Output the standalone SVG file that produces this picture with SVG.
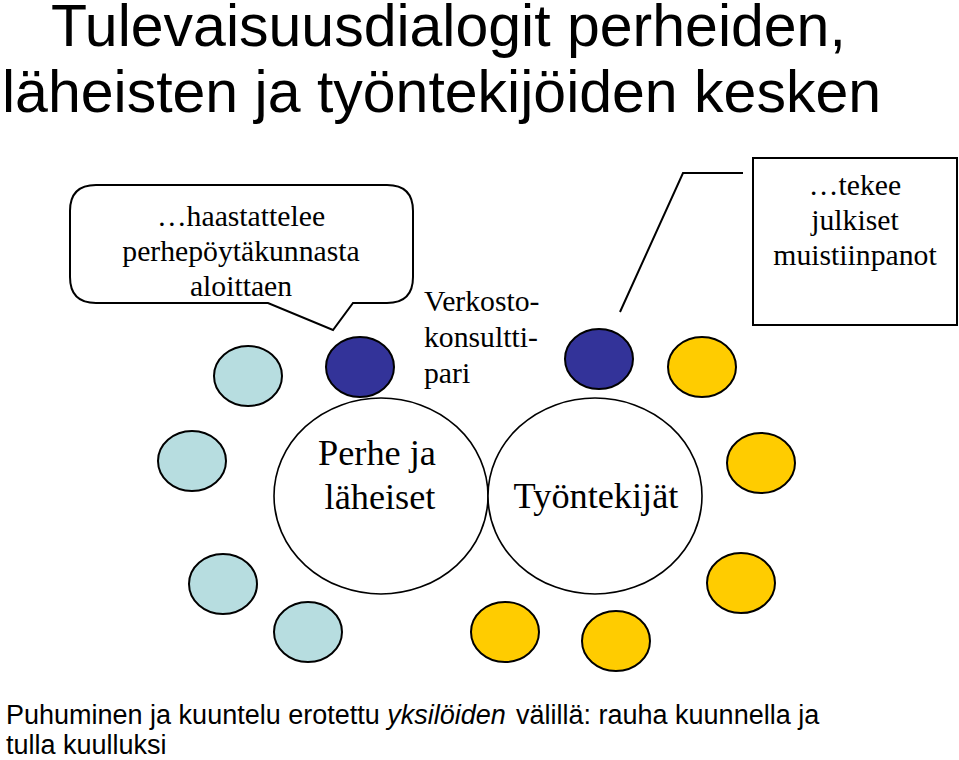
<svg xmlns="http://www.w3.org/2000/svg" width="959" height="760" viewBox="0 0 959 760">
<style>
.title{font-family:"Liberation Sans",Arial,sans-serif;font-size:59px;fill:#000}
.serif{font-family:"Liberation Serif","Times New Roman",serif;fill:#000}
.t29{font-size:29.7px}
.t35{font-size:36.3px}
.foot{font-family:"Liberation Sans",Arial,sans-serif;font-size:27px;fill:#000}
.small{stroke:#000;stroke-width:2}
.lb{fill:#B7DDE0}
.db{fill:#333399}
.ye{fill:#FFCC00}
.big{fill:#fff;stroke:#000;stroke-width:1.6}
.line{fill:none;stroke:#000;stroke-width:2}
</style>
<rect width="959" height="760" fill="#fff"/>
<g id="title">
<text class="title" x="51" y="46">Tulevaisuusdialogit perheiden,</text>
<text class="title" x="2" y="112">läheisten ja työntekijöiden kesken</text>
</g>
<g id="connectors">
<polyline class="line" points="620,312 683,173 743,173"/>
</g>
<g id="callout-haastattelee">
<path class="line" d="M96,185 H387 Q413,185 413,211 V277 Q413,303 387,303 H353 L333,330 L268,303 H96 Q70,303 70,277 V211 Q70,185 96,185 Z" style="fill:#fff"/>
<text class="serif t29" text-anchor="middle" x="241" y="226">…haastattelee</text>
<text class="serif t29" text-anchor="middle" x="241" y="261">perhepöytäkunnasta</text>
<text class="serif t29" text-anchor="middle" x="241" y="296">aloittaen</text>
</g>
<g id="note-muistiinpanot">
<rect class="line" x="753" y="158" width="204" height="167"/>
<text class="serif t29" text-anchor="middle" x="855" y="195">…tekee</text>
<text class="serif t29" text-anchor="middle" x="855" y="230">julkiset</text>
<text class="serif t29" text-anchor="middle" x="855" y="265">muistiinpanot</text>
</g>
<g id="label-verkostokonsulttipari">
<text class="serif t29" x="424" y="311">Verkosto-</text>
<text class="serif t29" x="424" y="347">konsultti-</text>
<text class="serif t29" x="424" y="383">pari</text>
</g>
<g id="perhe">
<ellipse class="big" cx="381" cy="496" rx="107" ry="98"/>
<text class="serif t35" text-anchor="middle" x="377" y="465">Perhe ja</text>
<text class="serif t35" text-anchor="middle" x="380" y="509">läheiset</text>
</g>
<g id="tyontekijat">
<ellipse class="big" cx="595" cy="496" rx="107" ry="98"/>
<text class="serif t35" text-anchor="middle" x="596" y="508">Työntekijät</text>
</g>
<g id="konsultti-1"><ellipse class="small db" cx="360" cy="367" rx="34" ry="30"/></g>
<g id="konsultti-2"><ellipse class="small db" cx="599" cy="359" rx="34" ry="30"/></g>
<g id="laheinen-1"><ellipse class="small lb" cx="248" cy="376" rx="34" ry="30"/></g>
<g id="laheinen-2"><ellipse class="small lb" cx="192" cy="461" rx="34" ry="30"/></g>
<g id="laheinen-3"><ellipse class="small lb" cx="223" cy="584" rx="34" ry="30"/></g>
<g id="laheinen-4"><ellipse class="small lb" cx="308" cy="632" rx="34" ry="30"/></g>
<g id="tyontekija-1"><ellipse class="small ye" cx="702" cy="367" rx="34" ry="30"/></g>
<g id="tyontekija-2"><ellipse class="small ye" cx="761" cy="463" rx="34" ry="30"/></g>
<g id="tyontekija-3"><ellipse class="small ye" cx="741" cy="583" rx="34" ry="30"/></g>
<g id="tyontekija-4"><ellipse class="small ye" cx="505" cy="632" rx="34" ry="30"/></g>
<g id="tyontekija-5"><ellipse class="small ye" cx="616" cy="641" rx="34" ry="30"/></g>
<g id="footer">
<text class="foot" x="6" y="724">Puhuminen ja kuuntelu erotettu <tspan font-style="italic">yksilöiden</tspan><tspan x="516">välillä: rauha kuunnella ja</tspan></text>
<text class="foot" x="6" y="754">tulla kuulluksi</text>
</g>
</svg>
